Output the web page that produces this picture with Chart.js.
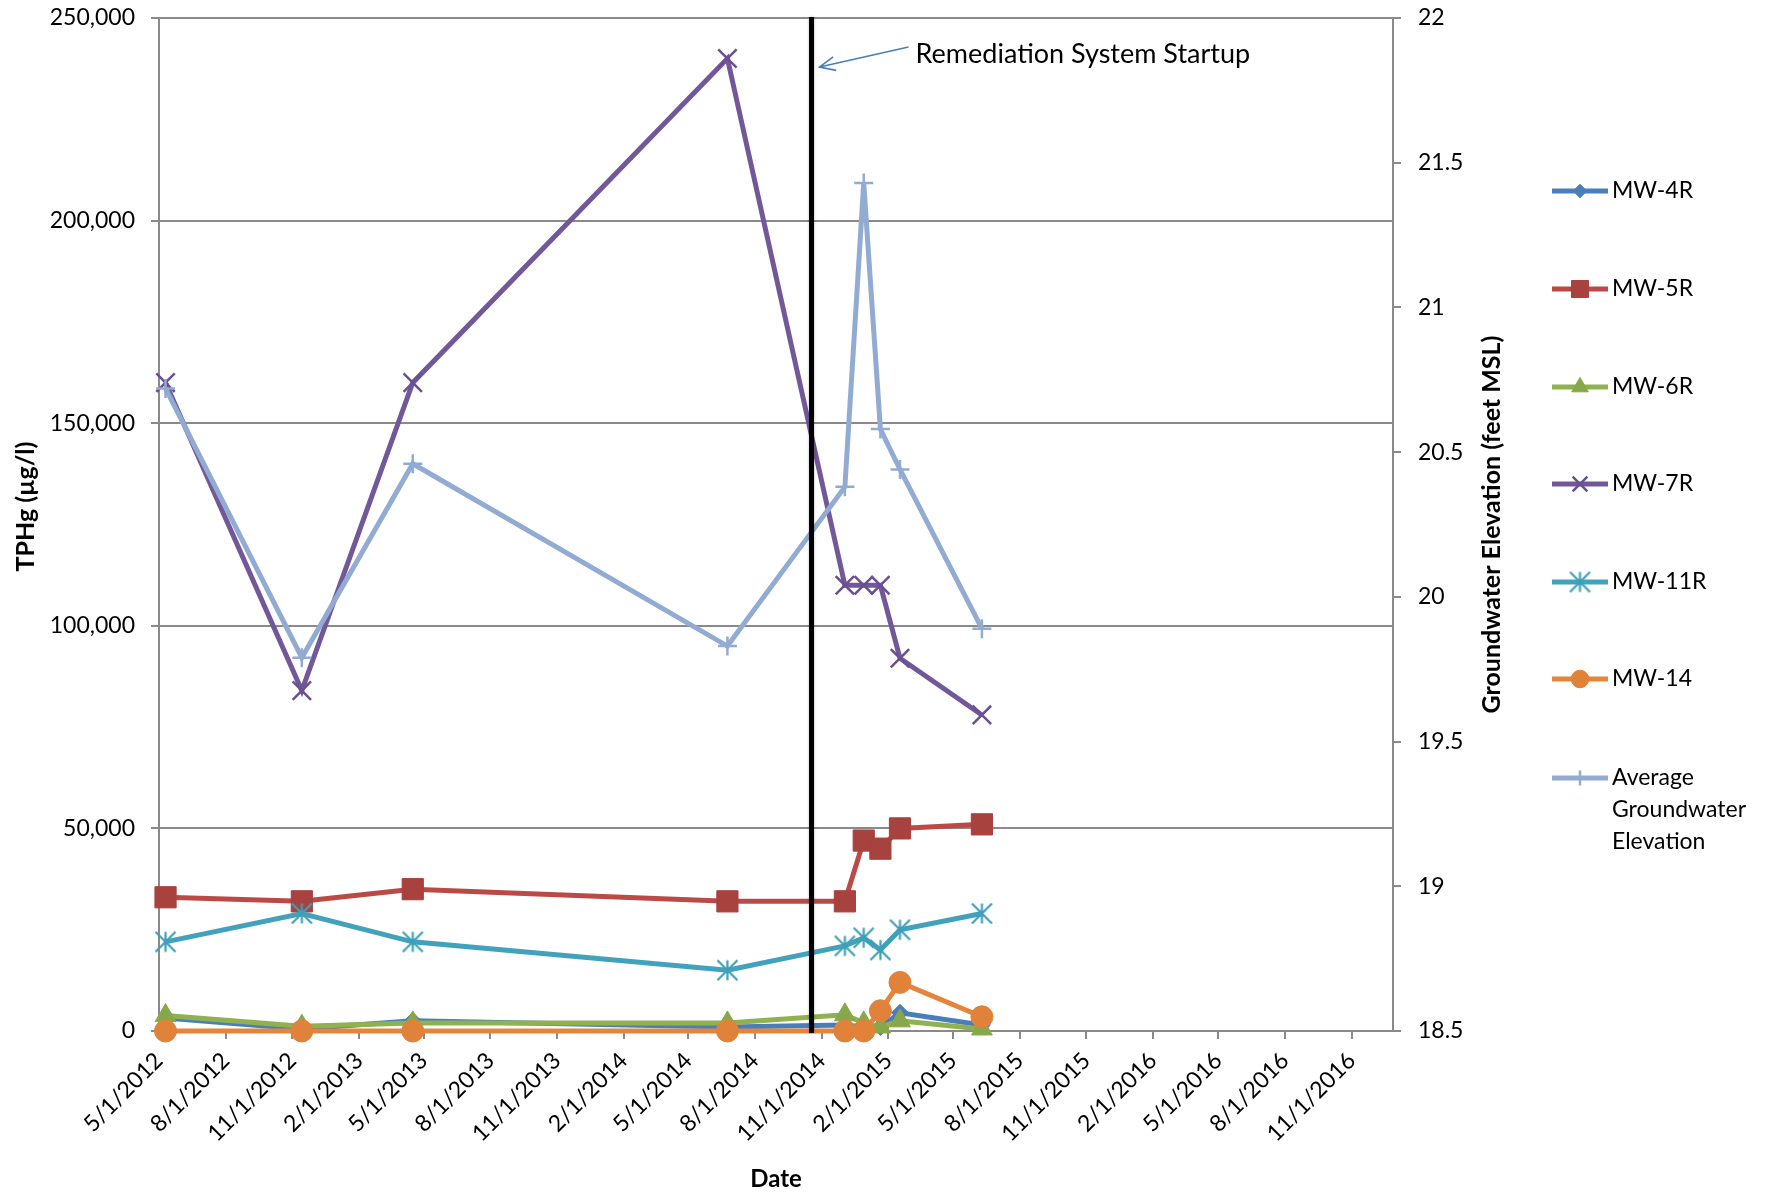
<!DOCTYPE html>
<html>
<head>
<meta charset="utf-8">
<title>TPHg and Groundwater Elevation</title>
<script src="https://cdn.jsdelivr.net/npm/chart.js@4/dist/chart.umd.min.js"></script>
<style>
  html, body { margin: 0; padding: 0; background: #ffffff; }
  #wrap { width: 1778px; height: 1194px; position: relative; }
  canvas { display: block; }
</style>
</head>
<body>
<div id="wrap"><canvas id="chart" width="1778" height="1194"></canvas></div>
<script>
// Sampling events (m/d/yyyy)
const sampleDates = ['5/10/2012', '11/14/2012', '4/16/2013', '6/24/2014', '12/3/2014', '12/29/2014', '1/21/2015', '2/17/2015', '6/10/2015'];

// TPHg concentrations (µg/l) per well
const mw4r  = [3200, 500, 2500, 1000, 1500, 1000, 1000, 4500, 1500];
const mw5r  = [33000, 32000, 35000, 32000, 32000, 47000, 45000, 50000, 51000];
const mw6r  = [3800, 1200, 2000, 2000, 4000, 2000, 1000, 2500, 500];
const mw7r  = [160000, 84000, 160000, 240000, 110000, 110000, 110000, 92000, 78000];
const mw11r = [22000, 29000, 22000, 15000, 21000, 23000, 20000, 25000, 29000];
const mw14  = [0, 0, 0, 0, 0, 0, 5000, 12000, 3500];

// Average groundwater elevation (feet MSL)
const avgElevation = [20.72, 19.79, 20.46, 19.83, 20.38, 21.43, 20.58, 20.44, 19.89];

// Date axis labels (quarterly)
const tickLabels = ['5/1/2012', '8/1/2012', '11/1/2012', '2/1/2013', '5/1/2013', '8/1/2013', '11/1/2013',
  '2/1/2014', '5/1/2014', '8/1/2014', '11/1/2014', '2/1/2015', '5/1/2015', '8/1/2015', '11/1/2015',
  '2/1/2016', '5/1/2016', '8/1/2016', '11/1/2016'];
const axisEndDate = '12/28/2016';
const startupDate = '10/18/2014';
const startupLabel = 'Remediation System Startup';

const seriesNames = ['MW-4R', 'MW-5R', 'MW-6R', 'MW-7R', 'MW-11R', 'MW-14', ['Average', 'Groundwater', 'Elevation']];

// Convert m/d/yyyy to days since the first axis label
function dayNumber(str) {
  const [m, d, y] = str.split('/').map(Number);
  const [m0, d0, y0] = tickLabels[0].split('/').map(Number);
  return (Date.UTC(y, m - 1, d) - Date.UTC(y0, m0 - 1, d0)) / 86400000;
}
const tickDays = tickLabels.map(dayNumber);
const sampleDays = sampleDates.map(dayNumber);
const pairs = vals => vals.map((v, i) => ({ x: sampleDays[i], y: v }));

const FONT = 'Lato, "Open Sans", "DejaVu Sans", sans-serif';
const GRID = '#8a8a8a';

// Asterisk marker used for MW-11R
function asterisk(size, color, lw) {
  const c = document.createElement('canvas');
  c.width = c.height = size;
  const g = c.getContext('2d');
  const m = size / 2, r = size / 2 - 1.5;
  g.strokeStyle = color;
  g.lineWidth = lw;
  g.beginPath();
  g.moveTo(m, m - r); g.lineTo(m, m + r);
  g.moveTo(m - r, m - r); g.lineTo(m + r, m + r);
  g.moveTo(m + r, m - r); g.lineTo(m - r, m + r);
  g.stroke();
  return c;
}

function series(idx, values, line, marker, style, radius, axis, borderW) {
  return {
    label: Array.isArray(seriesNames[idx]) ? seriesNames[idx].join(' ') : seriesNames[idx],
    data: pairs(values),
    yAxisID: axis,
    borderColor: line,
    backgroundColor: marker,
    borderWidth: 5,
    pointStyle: style,
    pointRadius: radius,
    pointHoverRadius: radius,
    pointBackgroundColor: marker,
    pointBorderColor: marker,
    pointBorderWidth: borderW,
    tension: 0,
    clip: false,
    order: 10 - idx
  };
}

const tealStar = asterisk(23, '#3f9fb8', 2.2);

const datasets = [
  series(0, mw4r, '#4a7ebb', '#4a7ebb', 'rectRot', 8.5, 'y', 1),
  series(1, mw5r, '#bb4a47', '#a8423f', 'rect', 15, 'y', 1),
  series(2, mw6r, '#90b150', '#87a84a', 'triangle', 12, 'y', 1),
  series(3, mw7r, '#725898', '#6a4f91', 'crossRot', 13, 'y', 2.5),
  series(4, mw11r, '#42a2bc', '#3f9fb8', tealStar, 11, 'y', 2),
  series(5, mw14, '#e5853b', '#e0823a', 'circle', 11, 'y', 1),
  series(6, avgElevation, '#92abd3', '#92abd3', 'cross', 9.5, 'y2', 2.5)
];

// Startup marker, callout, axis titles and legend
const decor = {
  id: 'decor',
  afterDatasetsDraw(chart) {
    const { ctx, chartArea, scales } = chart;
    const x = scales.x.getPixelForValue(dayNumber(startupDate));
    ctx.save();
    ctx.shadowColor = 'rgba(0,0,0,0.25)';
    ctx.shadowBlur = 3;
    ctx.fillStyle = '#000';
    ctx.fillRect(x - 2.5, chartArea.top - 1, 5, chartArea.bottom - chartArea.top + 3);
    ctx.restore();
  },
  afterDraw(chart) {
    const { ctx, chartArea, scales } = chart;
    const lx = scales.x.getPixelForValue(dayNumber(startupDate));
    const top = chartArea.top;
    ctx.save();

    // callout arrow
    const tail = { x: lx + 97, y: top + 29 };
    const tip = { x: lx + 8, y: top + 49 };
    ctx.strokeStyle = '#4a7ebb';
    ctx.lineWidth = 1.6;
    ctx.beginPath();
    ctx.moveTo(tail.x, tail.y); ctx.lineTo(tip.x, tip.y);
    const ang = Math.atan2(tail.y - tip.y, tail.x - tip.x);
    const hl = 17, spread = 0.42;
    ctx.moveTo(tip.x + hl * Math.cos(ang - spread), tip.y + hl * Math.sin(ang - spread));
    ctx.lineTo(tip.x, tip.y);
    ctx.lineTo(tip.x + hl * Math.cos(ang + spread), tip.y + hl * Math.sin(ang + spread));
    ctx.stroke();

    ctx.fillStyle = '#000';
    ctx.font = '27px ' + FONT;
    ctx.textAlign = 'left';
    ctx.textBaseline = 'middle';
    ctx.fillText(startupLabel, lx + 104, top + 36);

    // axis titles
    ctx.textAlign = 'center';
    ctx.textBaseline = 'middle';
    const midY = (chartArea.top + chartArea.bottom) / 2;
    ctx.font = 'bold 25px ' + FONT;
    ctx.save();
    ctx.translate(26, midY - 18);
    ctx.rotate(-Math.PI / 2);
    ctx.fillText('TPHg (µg/l)', 0, 0);
    ctx.restore();
    ctx.save();
    ctx.translate(chartArea.right + 99, midY);
    ctx.rotate(-Math.PI / 2);
    ctx.fillText('Groundwater Elevation (feet MSL)', 0, 0);
    ctx.restore();
    ctx.font = 'bold 24px ' + FONT;
    ctx.fillText('Date', (chartArea.left + chartArea.right) / 2, 1179);

    // legend
    const legendY = [191, 289, 387, 484, 582, 679, 778];
    const lineX0 = 1552, lineX1 = 1608;
    chart.data.datasets.forEach((ds, i) => {
      const y = legendY[i];
      ctx.strokeStyle = ds.borderColor;
      ctx.lineWidth = 5;
      ctx.beginPath();
      ctx.moveTo(lineX0, y); ctx.lineTo(lineX1, y);
      ctx.stroke();
      ctx.fillStyle = ds.pointBackgroundColor;
      ctx.strokeStyle = ds.pointBorderColor;
      ctx.lineWidth = ds.pointBorderWidth;
      Chart.helpers.drawPoint(ctx, {
        pointStyle: ds.pointStyle,
        radius: ds.pointRadius * 0.8,
        rotation: 0,
        borderWidth: ds.pointBorderWidth
      }, (lineX0 + lineX1) / 2, y);
      ctx.fillStyle = '#000';
      ctx.font = '23px ' + FONT;
      ctx.textAlign = 'left';
      ctx.textBaseline = 'middle';
      const name = seriesNames[i];
      const lines = Array.isArray(name) ? name : [name];
      lines.forEach((t, k) => ctx.fillText(t, 1612, y + k * 32));
    });
    ctx.restore();
  }
};

const PLOT_RIGHT = 1393, PLOT_BOTTOM = 1031, PLOT_LEFT = 159, PLOT_TOP = 18;
const Y2_WIDTH = 70;

// fixed box sizes, no extra label padding around the plot
function fixVertical(width) {
  return s => { s.width = width; s.paddingTop = 0; s.paddingBottom = 0; };
}

function build() {
  new Chart(document.getElementById('chart'), {
    type: 'line',
    data: { datasets },
    plugins: [decor],
    options: {
      responsive: false,
      animation: false,
      devicePixelRatio: 1,
      layout: { padding: { top: PLOT_TOP, left: 0, right: 1778 - PLOT_RIGHT - Y2_WIDTH, bottom: 0 } },
      plugins: { legend: { display: false }, tooltip: { enabled: false } },
      scales: {
        x: {
          type: 'linear',
          position: 'bottom',
          min: 0,
          max: dayNumber(axisEndDate),
          afterBuildTicks: s => { s.ticks = tickDays.map(v => ({ value: v })); },
          afterFit: s => { s.height = 1194 - PLOT_BOTTOM; s.paddingLeft = 0; s.paddingRight = 0; },
          ticks: {
            autoSkip: false, maxRotation: 45, minRotation: 45, padding: 8,
            color: '#000', font: { family: FONT, size: 23 },
            callback: (v, i) => tickLabels[i]
          },
          grid: { drawOnChartArea: false, drawTicks: true, tickLength: 8, color: GRID, lineWidth: 2 },
          border: { color: GRID, width: 2 }
        },
        y: {
          position: 'left',
          min: 0, max: 250000,
          afterFit: fixVertical(PLOT_LEFT),
          ticks: {
            stepSize: 50000, padding: 16, color: '#000', font: { family: FONT, size: 23 },
            callback: v => Number(v).toLocaleString('en-US')
          },
          grid: { color: GRID, lineWidth: 2, tickLength: 8 },
          border: { color: GRID, width: 2 }
        },
        y2: {
          position: 'right',
          min: 18.5, max: 22,
          afterFit: fixVertical(Y2_WIDTH),
          ticks: {
            stepSize: 0.5, padding: 17, color: '#000', font: { family: FONT, size: 23 },
            callback: v => String(v)
          },
          grid: { drawOnChartArea: false, tickLength: 8, color: GRID, lineWidth: 2 },
          border: { color: GRID, width: 2 }
        }
      }
    }
  });
}

if (document.fonts && document.fonts.load) {
  Promise.all([document.fonts.load('23px Lato'), document.fonts.load('bold 23px Lato')])
    .then(build, build);
} else {
  build();
}
</script>
</body>
</html>
